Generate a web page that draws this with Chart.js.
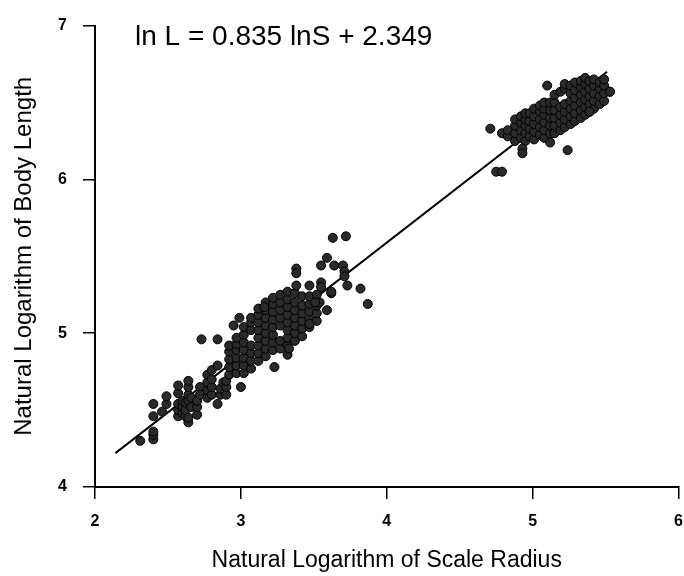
<!DOCTYPE html>
<html>
<head>
<meta charset="utf-8">
<script src="https://cdn.jsdelivr.net/npm/chart.js@4"></script>
<style>
  html, body { margin: 0; padding: 0; background: #fff; }
  #wrap { width: 684px; height: 576px; }
</style>
</head>
<body>
<div id="wrap"><canvas id="scatter_canvas" width="684" height="576"></canvas></div>
<script>
// ln scale radius vs ln body length
const lowerGroup = [
  [2.31,4.30],[2.40,4.31],[2.40,4.34],[2.40,4.36],[2.40,4.46],[2.40,4.54],[2.46,4.49],
  [2.49,4.54],[2.49,4.59],[2.57,4.61],[2.57,4.66],[2.57,4.46],[2.57,4.50],[2.57,4.54],
  [2.60,4.48],[2.60,4.52],[2.60,4.56],[2.62,4.46],[2.62,4.50],[2.62,4.55],
  [2.64,4.42],[2.64,4.45],[2.64,4.56],[2.64,4.60],[2.64,4.65],[2.64,4.69],[2.66,4.52],[2.66,4.58],
  [2.70,4.47],[2.70,4.52],[2.70,4.56],[2.72,4.65],[2.72,4.60],
  [2.77,4.58],[2.77,4.63],[2.77,4.68],[2.77,4.73],[2.80,4.60],[2.80,4.65],[2.80,4.70],[2.80,4.76],
  [2.84,4.54],[2.84,4.79],[2.86,4.60],[2.86,4.64],[2.88,4.68],[2.90,4.60],[2.90,4.65],[2.90,4.69],
  [2.94,4.76],[2.97,4.80],[2.73,4.96],[2.84,4.96]
];

const middleGroup = [
  [2.92,4.73],[2.92,4.78],[2.92,4.83],[2.92,4.88],[2.92,4.92],
  [2.97,4.74],[2.97,4.79],[2.97,4.84],[2.97,4.89],[2.97,4.93],[2.97,4.97],
  [3.02,4.74],[3.02,4.79],[3.02,4.84],[3.02,4.89],[3.02,4.94],[3.02,4.99],[3.02,5.04],
  [3.07,4.77],[3.07,4.82],[3.07,4.87],[3.07,4.92],[3.07,5.02],[3.07,5.07],[3.07,5.10],
  [3.12,4.82],[3.12,4.87],[3.12,4.92],[3.12,4.97],[3.12,5.02],[3.12,5.07],[3.12,5.12],[3.12,5.16],
  [3.17,4.85],[3.17,4.90],[3.17,4.95],[3.17,5.00],[3.17,5.05],[3.17,5.10],[3.17,5.15],[3.17,5.20],
  [3.22,4.89],[3.22,4.94],[3.22,4.99],[3.22,5.04],[3.22,5.09],[3.22,5.14],[3.22,5.19],[3.22,5.23],
  [3.27,4.90],[3.27,4.95],[3.27,5.05],[3.27,5.10],[3.27,5.15],[3.27,5.20],[3.27,5.25],
  [3.32,4.92],[3.32,4.97],[3.32,5.02],[3.32,5.07],[3.32,5.12],[3.32,5.17],[3.32,5.22],[3.32,5.27],
  [3.37,4.95],[3.37,5.00],[3.37,5.05],[3.37,5.10],[3.37,5.15],[3.37,5.20],[3.37,5.26],
  [3.42,4.98],[3.42,5.03],[3.42,5.08],[3.42,5.13],[3.42,5.18],[3.42,5.24],
  [3.47,5.04],[3.47,5.09],[3.47,5.14],[3.47,5.19],[3.47,5.24],
  [3.52,5.08],[3.52,5.13],[3.52,5.18],[3.52,5.25]
];

const middleOutliers = [
  [2.95,5.05],[2.99,5.10],[3.16,5.17],[3.23,4.78],[3.00,4.65],[3.32,4.86],[3.33,4.90],
  [3.38,5.31],[3.47,5.31],[3.62,5.26],[3.59,5.15],[3.73,5.31],[3.82,5.29],[3.87,5.19],
  [3.54,5.20],[3.47,5.06],[3.63,5.62],[3.72,5.63],[3.59,5.49],[3.55,5.44],[3.64,5.44],
  [3.70,5.44],[3.71,5.40],[3.71,5.37],[3.38,5.42],[3.38,5.39],[3.55,5.33],[3.55,5.30],
  [3.51,5.20],[3.62,5.27]
];

const upperGroup = [
  [4.79,6.30],[4.83,6.28],[4.83,6.32],
  [4.88,6.25],[4.88,6.30],[4.88,6.35],[4.88,6.39],
  [4.92,6.27],[4.92,6.32],[4.92,6.37],[4.92,6.41],
  [4.95,6.25],[4.95,6.30],[4.95,6.35],[4.95,6.39],[4.95,6.43],
  [4.98,6.28],[4.98,6.33],[4.98,6.38],[4.98,6.43],
  [5.01,6.26],[5.01,6.31],[5.01,6.36],[5.01,6.41],[5.01,6.46],
  [5.05,6.29],[5.05,6.34],[5.05,6.39],[5.05,6.44],[5.05,6.48],
  [5.08,6.27],[5.08,6.32],[5.08,6.37],[5.08,6.42],[5.08,6.46],[5.08,6.50],
  [5.12,6.30],[5.12,6.35],[5.12,6.40],[5.12,6.45],[5.12,6.50],
  [5.15,6.30],[5.15,6.35],[5.15,6.40],[5.15,6.45],[5.15,6.50],[5.15,6.55],
  [5.19,6.32],[5.19,6.37],[5.19,6.42],[5.19,6.47],[5.19,6.57],
  [5.22,6.34],[5.22,6.39],[5.22,6.44],[5.22,6.49],[5.22,6.59],[5.22,6.62],
  [5.26,6.36],[5.26,6.41],[5.26,6.46],[5.26,6.51],[5.26,6.56],[5.26,6.61],
  [5.29,6.38],[5.29,6.43],[5.29,6.48],[5.29,6.53],[5.29,6.58],[5.29,6.63],
  [5.33,6.40],[5.33,6.45],[5.33,6.50],[5.33,6.55],[5.33,6.60],[5.33,6.64],
  [5.36,6.42],[5.36,6.47],[5.36,6.52],[5.36,6.57],[5.36,6.62],[5.36,6.66],
  [5.39,6.44],[5.39,6.49],[5.39,6.54],[5.39,6.59],[5.39,6.64],
  [5.42,6.46],[5.42,6.51],[5.42,6.56],[5.42,6.61],[5.42,6.65],
  [5.46,6.49],[5.46,6.54],[5.46,6.59],[5.46,6.63],
  [5.49,6.51],[5.49,6.56],[5.49,6.61],[5.49,6.65],[5.53,6.57]
];

const upperOutliers = [
  [5.10,6.61],[4.71,6.33],[4.93,6.20],[4.93,6.17],[5.24,6.19],[5.39,6.44],
  [5.12,6.24],[4.75,6.05],[4.79,6.05],[5.53,6.57]
];

// fitted line as drawn on the figure
const fitX = [2.14, 5.51];
const fitY = [4.22, 6.70];

const xTicks = [2, 3, 4, 5, 6];
const yTicks = [4, 5, 6, 7];
const equationText = 'ln L = 0.835 lnS + 2.349';

const allPoints = [].concat(lowerGroup, middleGroup, middleOutliers, upperGroup, upperOutliers)
  .map(p => ({ x: p[0], y: p[1] }));
const fitPoints = fitX.map((x, i) => ({ x: x, y: fitY[i] }));

const fontFamily = '"Liberation Sans", Arial, sans-serif';

const equationLabel = {
  id: 'equationLabel',
  afterDraw(chart) {
    const c = chart.ctx;
    c.save();
    c.font = '28px ' + fontFamily;
    c.fillStyle = '#000';
    c.textAlign = 'left';
    c.textBaseline = 'middle';
    c.fillText(equationText, 135, 37);
    c.restore();
  }
};

const ctx = document.getElementById('scatter_canvas').getContext('2d');

const config = {
  type: 'scatter',
  data: {
    datasets: [
      {
        label: 'fish',
        data: allPoints,
        backgroundColor: '#2a2a2a',
        borderColor: '#000',
        borderWidth: 1,
        pointRadius: 4.5
      },
      {
        label: 'fit',
        type: 'line',
        data: fitPoints,
        borderColor: '#000',
        borderWidth: 2,
        pointRadius: 0,
        fill: false
      }
    ]
  },
  options: {
    responsive: false,
    animation: false,
    layout: { padding: { top: 22, right: 4, left: 0, bottom: 0 } },
    plugins: {
      legend: { display: false },
      tooltip: { enabled: false }
    },
    scales: {
      x: {
        type: 'linear',
        min: 2,
        max: 6,
        afterBuildTicks: (scale) => { scale.ticks = xTicks.map(v => ({ value: v })); },
        afterFit: (scale) => {
          scale.height = 89;
          scale.paddingRight = 4;
          scale.paddingLeft = 0;
        },
        ticks: {
          color: '#000',
          padding: 13,
          maxRotation: 0,
          font: { family: fontFamily, size: 16, weight: 'bold' }
        },
        grid: { drawOnChartArea: false, drawTicks: true, tickLength: 12, color: '#000', lineWidth: 1.5 },
        border: { display: true, color: '#000', width: 2 },
        title: {
          display: true,
          text: 'Natural Logarithm of Scale Radius',
          color: '#000',
          padding: { top: 4, bottom: 2 },
          font: { family: fontFamily, size: 23 }
        }
      },
      y: {
        type: 'linear',
        min: 4,
        max: 7,
        afterBuildTicks: (scale) => { scale.ticks = yTicks.map(v => ({ value: v })); },
        afterFit: (scale) => { scale.width = 95; },
        ticks: {
          color: '#000',
          padding: 16,
          font: { family: fontFamily, size: 16, weight: 'bold' }
        },
        grid: { drawOnChartArea: false, drawTicks: true, tickLength: 12, color: '#000', lineWidth: 1.5 },
        border: { display: true, color: '#000', width: 2 },
        title: {
          display: true,
          text: 'Natural Logarithm of Body Length',
          color: '#000',
          padding: { top: 10, bottom: 4 },
          font: { family: fontFamily, size: 24 }
        }
      }
    }
  },
  plugins: [equationLabel]
};

const myChart = new Chart(ctx, config);
</script>
</body>
</html>
